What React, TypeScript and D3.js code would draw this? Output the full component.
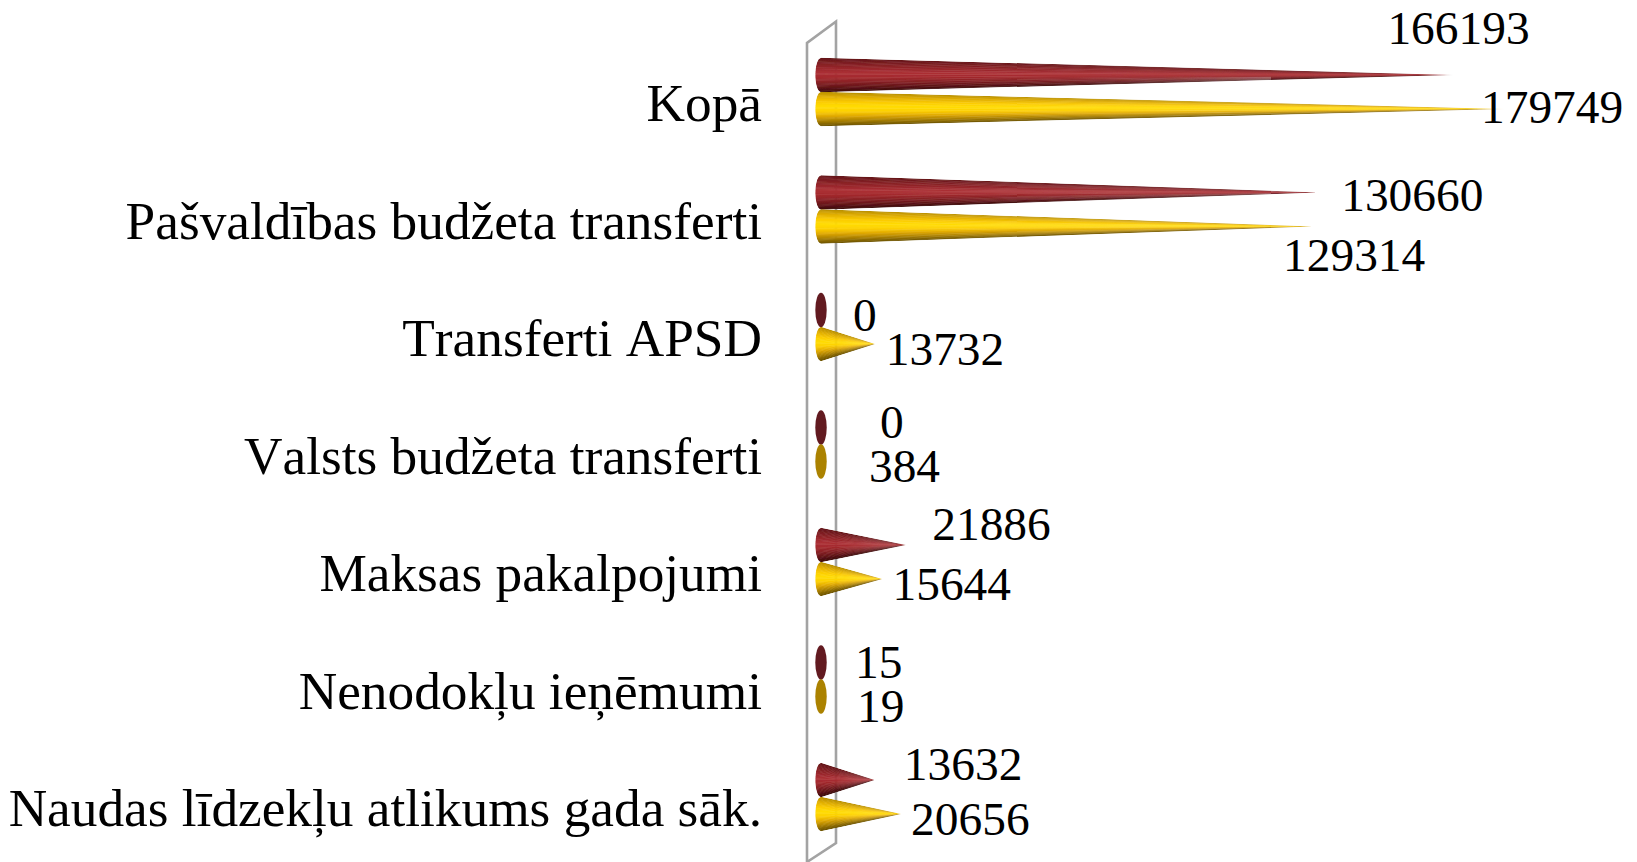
import React from "react";
import * as d3 from "d3";

const categories = ["Kopā", "Pašvaldības budžeta transferti", "Transferti APSD", "Valsts budžeta transferti", "Maksas pakalpojumi", "Nenodokļu ieņēmumi", "Naudas līdzekļu atlikums gada sāk."];
const seriesRed = [166193, 130660, 0, 0, 21886, 15, 13632];
const seriesGold = [179749, 129314, 13732, 384, 15644, 19, 20656];

// label offsets relative to each cone tip / row centre
const redDx = [-66, 23, 32, 59, 28, 34, 31];
const redDy = [-31, 18.5, 21, 10, -5, 15, 0];
const goldDx = [-24, -30, 12.5, 46.5, 12, 36, 11.5];
const goldDy = [14, 44.5, 21, 20.5, 21, 25.5, 21];

const redStops = ["#641619", "#7f1e22", "#97262b", "#ab3035", "#a52a2e", "#8a2226", "#661518", "#3c0b0d"];
const goldStops = ["#b98f00", "#e0ae00", "#fbcb00", "#ffdc00", "#fdd000", "#e0a800", "#a87f00", "#6b5200"];
const redFlat = "#621a20";
const goldFlat = "#ab8200";

const W = 1637, H = 862, RX = 5.7, RY = 17.2, STRIPS = 40;

const x = d3.scaleLinear().domain([0, 179749]).range([821, 1505]);
const y = d3.scalePoint<string>().domain(categories).range([92, 797]);
const wallLine = d3.line();

function Cone({ id, value, cy, stops, flat }: { id: string; value: number; cy: number; stops: string[]; flat: string }) {
  const cx = x(0);
  const tip = x(value);
  if (tip - cx < RX) return <ellipse cx={cx} cy={cy} rx={RX} ry={RY} fill={flat} />;
  const color = d3.scaleLinear<string>().domain(d3.range(stops.length).map(i => i / (stops.length - 1))).range(stops).interpolate(d3.interpolateRgb);
  const edge = (t: number): [number, number] => {
    const u = t * 2 - 1;
    return [cx - RX * Math.sqrt(Math.max(0, 1 - u * u)), cy + u * RY];
  };
  const outline = d3.path();
  d3.range(STRIPS + 1).forEach(i => {
    const e = edge(i / STRIPS);
    if (i === 0) outline.moveTo(e[0], e[1]);
    else outline.lineTo(e[0], e[1]);
  });
  outline.lineTo(tip + 2, cy);
  outline.closePath();
  return (
    <g clipPath={`url(#clip-${id})`}>
      <clipPath id={`clip-${id}`}><path d={outline.toString()} /></clipPath>
      <g filter="url(#soft)">
        {d3.range(STRIPS).map(i => {
          const p = d3.path();
          const a = edge(i / STRIPS);
          const b = edge(Math.min(STRIPS, i + 1.6) / STRIPS);
          p.moveTo(a[0], a[1]);
          p.lineTo(b[0], b[1]);
          p.lineTo(tip + 2, cy);
          p.closePath();
          return <path key={i} d={p.toString()} fill={color((i + 0.5) / STRIPS)} />;
        })}
      </g>
    </g>
  );
}

export default function App() {
  const fontFamily = "'Liberation Serif', serif";
  const wall = wallLine([[807, 862], [807, 43], [836, 21.5], [836, 843], [807, 862]]) as string;
  return (
    <svg width={W} height={H} viewBox={`0 0 ${W} ${H}`} style={{ position: "absolute", left: 0, top: 0, display: "block" }} fontFamily={fontFamily} fontSize={47.4} fill="#000">
      <defs>
        <filter id="soft" x="-2%" y="-30%" width="104%" height="160%">
          <feGaussianBlur stdDeviation="0 0.7" />
        </filter>
      </defs>
      <path d={wall} fill="none" stroke="#a3a3a3" strokeWidth={2.6} />
      {categories.map((c, i) => {
        const mid = y(c) as number;
        return (
          <g key={c}>
            <Cone id={`r${i}`} value={seriesRed[i]} cy={mid - 17} stops={redStops} flat={redFlat} />
            <Cone id={`g${i}`} value={seriesGold[i]} cy={mid + 17} stops={goldStops} flat={goldFlat} />
          </g>
        );
      })}
      {categories.map((c, i) => {
        const mid = y(c) as number;
        return (
          <g key={c}>
            <text x={762} y={mid + 29} textAnchor="end" fontSize={53.3} style={{ fontKerning: "none" }}>{c}</text>
            <text x={x(seriesRed[i]) + redDx[i]} y={mid - 17 + redDy[i]}>{seriesRed[i]}</text>
            <text x={x(seriesGold[i]) + goldDx[i]} y={mid + 17 + goldDy[i]}>{seriesGold[i]}</text>
          </g>
        );
      })}
    </svg>
  );
}
